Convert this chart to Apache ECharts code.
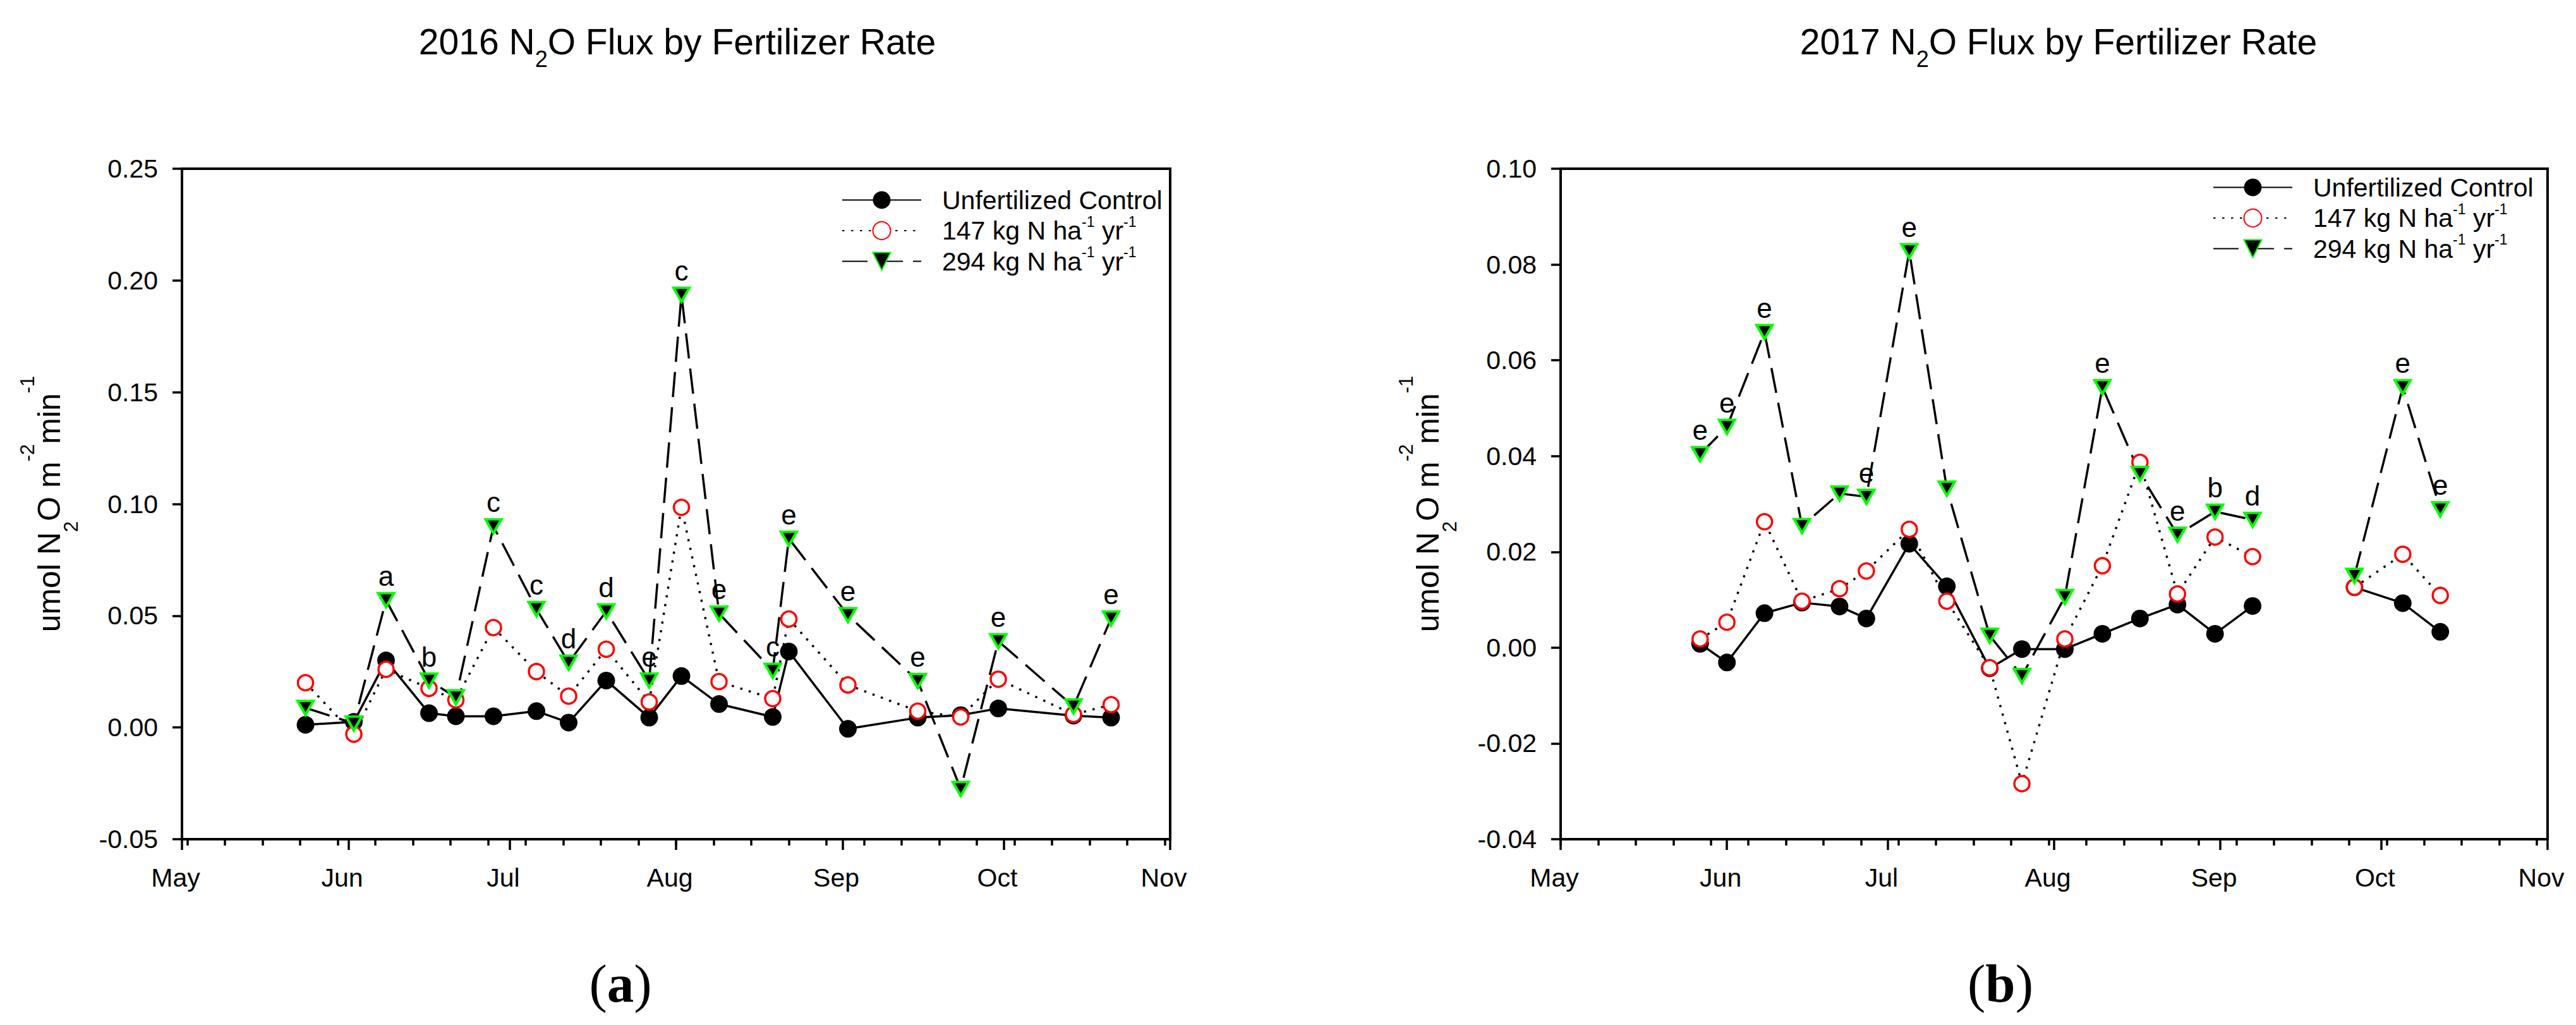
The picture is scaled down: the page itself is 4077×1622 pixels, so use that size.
<!DOCTYPE html>
<html><head><meta charset="utf-8">
<script src="https://cdn.jsdelivr.net/npm/echarts@6/dist/echarts.min.js"></script>
<style>html,body{margin:0;padding:0;background:#fff}#c{width:4077px;height:1622px}</style>
</head><body><div id="c"></div>
<script>
// ---------- data ----------
const monthLabels = ['May', 'Jun', 'Jul', 'Aug', 'Sep', 'Oct', 'Nov'];
const seriesNames = ['Unfertilized Control', '147 kg N ha-1 yr-1', '294 kg N ha-1 yr-1'];

const dates2016 = ['2016-05-24','2016-06-02','2016-06-08','2016-06-16','2016-06-21','2016-06-28','2016-07-06','2016-07-12','2016-07-19','2016-07-27','2016-08-02','2016-08-09','2016-08-19','2016-08-22','2016-09-02','2016-09-15','2016-09-23','2016-09-30','2016-10-14','2016-10-21'];
const control2016 = [0.0012,0.0025,0.030,0.0064,0.005,0.005,0.0073,0.0022,0.021,0.0044,0.023,0.0105,0.0047,0.034,-0.0006,0.0044,0.0055,0.0085,0.0053,0.0044];
const n147_2016 = [0.020,-0.0030,0.026,0.0175,0.0123,0.0447,0.025,0.014,0.035,0.0114,0.0985,0.0205,0.0129,0.0485,0.019,0.0073,0.0047,0.0216,0.0058,0.0102];
const n294_2016 = [0.0088,0.0018,0.057,0.021,0.0135,0.090,0.053,0.029,0.052,0.021,0.1936,0.051,0.0254,0.0845,0.0503,0.0208,-0.0275,0.0386,0.0094,0.0488];
const letters2016 = ['','','a','b','','c','c','d','d','e','c','e','c','e','e','e','','e','','e'];

const dates2017 = ['2017-05-27','2017-06-01','2017-06-08','2017-06-15','2017-06-22','2017-06-27','2017-07-05','2017-07-12','2017-07-20','2017-07-26','2017-08-03','2017-08-10','2017-08-17','2017-08-24','2017-08-31','2017-09-07','2017-09-16','2017-09-26','2017-10-05','2017-10-12'];
const control2017 = [0.0008,-0.0031,0.0072,0.0094,0.0086,0.0061,0.0217,0.0128,-0.0043,-0.0003,-0.0003,0.0029,0.0061,0.009,0.0029,0.0087,null,0.0126,0.0093,0.0033];
const n147_2017 = [0.0018,0.0053,0.0263,0.0097,0.0123,0.016,0.0247,0.0097,-0.0042,-0.0284,0.0018,0.0171,0.0387,0.0112,0.0231,0.019,null,0.0126,0.0195,0.0109];
const n294_2017 = [0.0404,0.0461,0.0659,0.0254,0.0322,0.0315,0.0828,0.0332,0.0025,-0.0059,0.0106,0.0544,0.0363,0.0236,0.0284,0.0267,null,0.015,0.0544,0.0289];
const letters2017 = ['e','e','e','','','e','e','','','','','e','','e','b','d','','','e','e'];

// ---------- helpers ----------
const FONT = '"Liberation Sans", Arial, sans-serif';
const SERIF = '"Liberation Serif", "Times New Roman", serif';
function ts(s) { const p = s.split('-').map(Number); return Date.UTC(p[0], p[1] - 1, p[2]); }
function monthStarts(y) { return monthLabels.map((m, i) => Date.UTC(y, 4 + i, 1)); }
function mondays(y) {
  const out = []; const end = Date.UTC(y, 10, 1);
  for (let t = Date.UTC(y, 4, 1); t <= end; t += 86400000) if (new Date(t).getUTCDay() === 1) out.push(t);
  return out;
}
function pts(dates, vals, letters) {
  return dates.map((d, i) => {
    const item = { value: [ts(d), vals[i] == null ? '-' : vals[i]] };
    if (letters && letters[i]) item.label = { show: true, formatter: letters[i] };
    return item;
  });
}
const legendRich = {
  'Unfertilized Control': '{t|Unfertilized Control}',
  '147 kg N ha-1 yr-1': '{t|147 kg N ha}{s|-1}{t| yr}{s|-1}',
  '294 kg N ha-1 yr-1': '{t|294 kg N ha}{s|-1}{t| yr}{s|-1}'
};

const axisLineStyle = { color: '#000', width: 4 };
const tickStyle = { color: '#000', width: 3.5 };

function xAxes(gridIndex, year) {
  return [
    {
      gridIndex, type: 'value', position: 'bottom', min: Date.UTC(year, 4, 1), max: Date.UTC(year, 10, 1),
      axisLine: { show: true, onZero: false, lineStyle: axisLineStyle },
      axisTick: { show: true, customValues: monthStarts(year), length: 17, lineStyle: tickStyle },
      axisLabel: {
        show: true, customValues: monthStarts(year), margin: 40, fontSize: 41, fontFamily: FONT, color: '#000',
        padding: [0, 20, 0, 0],
        formatter: v => monthLabels[new Date(v).getUTCMonth() - 4]
      },
      splitLine: { show: false }
    },
    {
      gridIndex, type: 'value', position: 'bottom', min: Date.UTC(year, 4, 1), max: Date.UTC(year, 10, 1),
      axisLine: { show: false, onZero: false },
      axisTick: { show: true, customValues: mondays(year), length: 10, lineStyle: tickStyle },
      axisLabel: { show: false },
      splitLine: { show: false }
    }
  ];
}
const yNameRich = {
  n: { fontSize: 50, lineHeight: 100, fontFamily: FONT, color: '#000' },
  sub: { fontSize: 31, lineHeight: 78, verticalAlign: 'bottom', fontFamily: FONT, color: '#000' },
  sup: { fontSize: 31, lineHeight: 32, verticalAlign: 'top', fontFamily: FONT, color: '#000' }
};
function yAxis(gridIndex, min, max, interval) {
  return {
    gridIndex, type: 'value', min, max, interval,
    axisLine: { show: true, onZero: false, lineStyle: axisLineStyle },
    axisTick: { show: true, length: 15, lineStyle: tickStyle },
    axisLabel: { fontSize: 41, fontFamily: FONT, color: '#000', margin: 38,
      formatter: v => (Math.abs(v) < 1e-9 ? 0 : v).toFixed(2) },
    splitLine: { show: false },
    name: '{n|umol N}{sub|2}{n|O m}{sup|-2}{n|min}{sup|-1}',
    nameLocation: 'middle', nameRotate: 90, nameGap: 160,
    nameTextStyle: { rich: yNameRich }
  };
}
function makeSeries(xi, yi, dates, c, a, b, letters) {
  return [
    { type: 'line', name: seriesNames[0], xAxisIndex: xi, yAxisIndex: yi, data: pts(dates, c),
      symbol: 'circle', symbolSize: 28, itemStyle: { color: '#000' },
      lineStyle: { color: '#000', width: 3.5, type: 'solid' }, emphasis: { disabled: true } },
    { type: 'line', name: seriesNames[1], xAxisIndex: xi, yAxisIndex: yi, data: pts(dates, a),
      symbol: 'circle', symbolSize: 24, itemStyle: { color: '#fff', borderColor: '#ff0000', borderWidth: 3.5 },
      lineStyle: { color: '#000', width: 3.5, type: [3.5, 10.5] }, emphasis: { disabled: true } },
    { type: 'line', name: seriesNames[2], xAxisIndex: xi, yAxisIndex: yi, data: pts(dates, b, letters),
      symbol: 'triangle', symbolRotate: 180, symbolSize: [25, 22],
      itemStyle: { color: '#000', borderColor: '#00ff00', borderWidth: 4 },
      lineStyle: { color: '#000', width: 3.5, type: [40, 16] }, emphasis: { disabled: true },
      label: { show: false, position: 'top', distance: 3, fontSize: 44, fontFamily: FONT, color: '#000' } }
  ];
}
function legend(left, top) {
  return {
    left, top, orient: 'vertical', itemWidth: 125, itemHeight: 35, itemGap: 2, selectedMode: false,
    data: seriesNames, formatter: n => legendRich[n],
    textStyle: { padding: [0, 0, 0, 28], rich: {
      t: { fontSize: 41, lineHeight: 52, fontFamily: FONT, color: '#000' },
      s: { fontSize: 23, lineHeight: 22, verticalAlign: 'top', fontFamily: FONT, color: '#000' }
    } }
  };
}
const titleRich = {
  t: { fontSize: 57, lineHeight: 90, fontFamily: FONT, fill: '#000' },
  s: { fontSize: 36, lineHeight: 41, verticalAlign: 'bottom', fontFamily: FONT, fill: '#000' }
};
const panelRich = {
  p: { fontSize: 85, fontFamily: SERIF, fill: '#000' },
  b: { fontSize: 85, fontFamily: SERIF, fontWeight: 'bold', fill: '#000' }
};

const chart = echarts.init(document.getElementById('c'), null, { renderer: 'svg' });
chart.setOption({
  animation: false,
  backgroundColor: '#fff',
  grid: [
    { left: 288, right: 2225, top: 267, bottom: 294, show: true, borderColor: '#000', borderWidth: 4, outerBoundsMode: 'none' },
    { left: 2470, right: 45, top: 267, bottom: 294, show: true, borderColor: '#000', borderWidth: 4, outerBoundsMode: 'none' }
  ],
  xAxis: [...xAxes(0, 2016), ...xAxes(1, 2017)],
  yAxis: [yAxis(0, -0.05, 0.25, 0.05), yAxis(1, -0.04, 0.10, 0.02)],
  legend: [legend(1327, 291), legend(3497, 271)],
  series: [
    ...makeSeries(0, 0, dates2016, control2016, n147_2016, n294_2016, letters2016),
    ...makeSeries(2, 1, dates2017, control2017, n147_2017, n294_2017, letters2017)
  ],
  graphic: [
    { type: 'text', x: 1072, y: 66, style: { text: '{t|2016 N}{s|2}{t|O Flux by Fertilizer Rate}', align: 'center', verticalAlign: 'middle', rich: titleRich } },
    { type: 'text', x: 3258, y: 66, style: { text: '{t|2017 N}{s|2}{t|O Flux by Fertilizer Rate}', align: 'center', verticalAlign: 'middle', rich: titleRich } },
    { type: 'text', x: 982, y: 1556, style: { text: '{p|(}{b|a}{p|)}', align: 'center', verticalAlign: 'middle', rich: panelRich } },
    { type: 'text', x: 3166, y: 1556, style: { text: '{p|(}{b|b}{p|)}', align: 'center', verticalAlign: 'middle', rich: panelRich } }
  ]
});
</script>
</body></html>
